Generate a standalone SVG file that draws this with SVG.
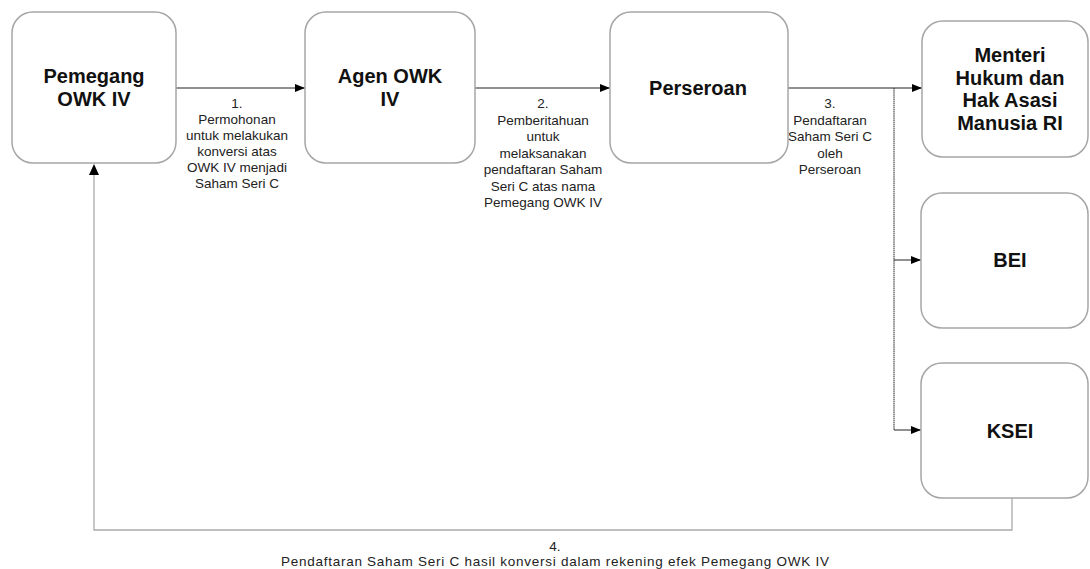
<svg xmlns="http://www.w3.org/2000/svg" width="1090" height="569" viewBox="0 0 1090 569">
<style>
.box{fill:#fff;stroke:#a6a6a6;stroke-width:1.5}
.nt{font-family:"Liberation Sans",Arial,sans-serif;font-weight:bold;font-size:20px;fill:#111;text-anchor:middle}
.lb{font-family:"Liberation Sans",Arial,sans-serif;font-size:13.5px;fill:#222;text-anchor:middle}
.ln{fill:none;stroke:#222;stroke-width:1}
.gl{fill:none;stroke:#aaa;stroke-width:1.3}
</style>
<defs>
<marker id="ah" viewBox="0 0 10 10" refX="10" refY="5" markerWidth="10" markerHeight="10" markerUnits="userSpaceOnUse" orient="auto">
<path d="M0,1 L10,5 L0,9 Z" fill="#000"/>
</marker>
</defs>
<rect width="1090" height="569" fill="#fff"/>
<g id="connectors">
<line class="ln" x1="176" y1="88" x2="305" y2="88" marker-end="url(#ah)"/>
<line class="ln" x1="475" y1="88" x2="610" y2="88" marker-end="url(#ah)"/>
<line class="ln" x1="788" y1="88" x2="922" y2="88" marker-end="url(#ah)"/>
<line class="ln" x1="894" y1="88" x2="894" y2="430" stroke-dasharray="1.5,0.6"/>
<line class="ln" x1="894" y1="260" x2="921" y2="260" marker-end="url(#ah)"/>
<line class="ln" x1="894" y1="430" x2="921" y2="430" marker-end="url(#ah)"/>
<polyline class="gl" points="1012,498 1012,530 94,530 94,166"/>
<path d="M89,175 L94,164 L99,175 Z" fill="#000"/>
<g id="label1">
<text class="lb" x="237" y="108">1.</text>
<text class="lb" x="237" y="124">Permohonan</text>
<text class="lb" x="237" y="140">untuk melakukan</text>
<text class="lb" x="237" y="156">konversi atas</text>
<text class="lb" x="237" y="172">OWK IV menjadi</text>
<text class="lb" x="237" y="188">Saham Seri C</text>
</g>
<g id="label2">
<text class="lb" x="543" y="108">2.</text>
<text class="lb" x="543" y="124.5">Pemberitahuan</text>
<text class="lb" x="543" y="141">untuk</text>
<text class="lb" x="543" y="157.5">melaksanakan</text>
<text class="lb" x="543" y="174">pendaftaran Saham</text>
<text class="lb" x="543" y="190.5">Seri C atas nama</text>
<text class="lb" x="543" y="207">Pemegang OWK IV</text>
</g>
<g id="label3">
<text class="lb" x="830" y="108">3.</text>
<text class="lb" x="830" y="124.5">Pendaftaran</text>
<text class="lb" x="830" y="141">Saham Seri C</text>
<text class="lb" x="830" y="157.5">oleh</text>
<text class="lb" x="830" y="174">Perseroan</text>
</g>
<g id="label4">
<text class="lb" x="555" y="551">4.</text>
<text class="lb" x="555" y="566" textLength="548" lengthAdjust="spacing">Pendaftaran Saham Seri C hasil konversi dalam rekening efek Pemegang OWK IV</text>
</g>
</g>
<g id="pemegang">
<rect class="box" x="12" y="12" width="164" height="151" rx="21"/>
<text class="nt" x="94" y="83">Pemegang</text>
<text class="nt" x="94" y="106">OWK IV</text>
</g>
<g id="agen">
<rect class="box" x="305" y="12" width="170" height="151" rx="21"/>
<text class="nt" x="390" y="83">Agen OWK</text>
<text class="nt" x="390" y="106">IV</text>
</g>
<g id="perseroan">
<rect class="box" x="610" y="12" width="178" height="151" rx="21"/>
<text class="nt" x="698" y="95">Perseroan</text>
</g>
<g id="menteri">
<rect class="box" x="922" y="21" width="166" height="136" rx="21"/>
<text class="nt" x="1010" y="62">Menteri</text>
<text class="nt" x="1010" y="85">Hukum dan</text>
<text class="nt" x="1010" y="107">Hak Asasi</text>
<text class="nt" x="1010" y="130">Manusia RI</text>
</g>
<g id="bei">
<rect class="box" x="921" y="193" width="167" height="135" rx="21"/>
<text class="nt" x="1010" y="267">BEI</text>
</g>
<g id="ksei">
<rect class="box" x="921" y="363" width="167" height="135" rx="21"/>
<text class="nt" x="1010" y="438">KSEI</text>
</g>
</svg>
